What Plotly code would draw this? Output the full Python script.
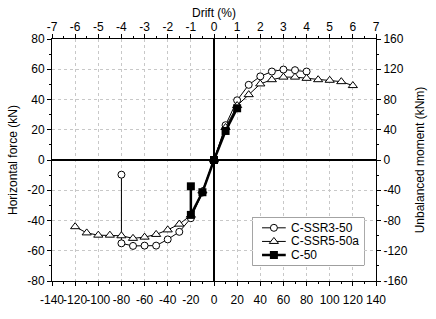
import plotly.graph_objects as go

# C-SSR3-50 (circles)
ssr3_x = [-80, -80, -70, -60, -50, -40, -30, -20, -10, 0, 10, 20, 30, 40, 50, 60, 70, 80]
ssr3_y = [-9.7, -55.1, -56.8, -56.6, -56.6, -52.5, -47.5, -38.5, -21.5, 0, 23.0, 39.5, 49.7, 55.3, 58.5, 59.8, 59.4, 58.5]
# C-SSR5-50a (triangles)
ssr5_x = [-120, -110, -100, -90, -80, -70, -60, -50, -40, -30, -20, -10, 0, 10, 20, 30, 40, 50, 60, 70, 80, 90, 100, 110, 120]
ssr5_y = [-44.1, -48.2, -49.7, -49.7, -50.1, -51.8, -51.0, -49.2, -46.2, -42.4, -36.5, -20.5, 0, 21.5, 36.0, 43.2, 50.3, 53.1, 54.8, 54.8, 54.0, 53.1, 52.7, 51.8, 49.2]
# C-50 (filled squares)
c50_x = [-20, -20, -10, 0, 10, 20]
c50_y = [-17.4, -36.3, -21.3, 0, 19.2, 34.2]

series_names = ["C-SSR3-50", "C-SSR5-50a", "C-50"]

xt = list(range(-140, 141, 20))
yt = list(range(-80, 81, 20))
x2t = list(range(-7, 8))
y2t = list(range(-160, 161, 40))

def lab(v):
    return str(v)

styles = [
    dict(line=dict(color="black", width=1),
         marker=dict(symbol="circle", size=7, color="white", line=dict(width=1, color="black"))),
    dict(line=dict(color="black", width=1),
         marker=dict(symbol="triangle-up", size=8, color="white", line=dict(width=1, color="black"))),
    dict(line=dict(color="black", width=2.5),
         marker=dict(symbol="square", size=8, color="black")),
]

fig = go.Figure()
for name, xs, ys, st in zip(series_names, [ssr3_x, ssr5_x, c50_x], [ssr3_y, ssr5_y, c50_y], styles):
    fig.add_trace(go.Scatter(x=xs, y=ys, name=name, mode="lines+markers", showlegend=False, **st))

# dummy trace for secondary axes
fig.add_trace(go.Scatter(x=[0], y=[0], xaxis="x2", yaxis="y2", mode="markers",
                         marker=dict(opacity=0), showlegend=False, hoverinfo="skip"))

# custom legend drawn on its own small axis (rows 1..3, sample from 0 to 1, text at 1.15)
for i, (name, st) in enumerate(zip(series_names, styles)):
    row = i + 1
    fig.add_trace(go.Scatter(x=[0, 1], y=[row, row], xaxis="x3", yaxis="y3", mode="lines",
                             line=st["line"], showlegend=False, hoverinfo="skip"))
    fig.add_trace(go.Scatter(x=[0.5], y=[row], xaxis="x3", yaxis="y3", mode="markers",
                             marker=st["marker"], showlegend=False, hoverinfo="skip"))
    fig.add_annotation(x=1.15, y=row, xref="x3", yref="y3", text=name, showarrow=False,
                       xanchor="left", yanchor="middle",
                       font=dict(family="Liberation Sans, Arial", size=12, color="black"))

tickfont = dict(family="Liberation Sans, Arial", size=12, color="black")
common = dict(showline=True, linecolor="black", linewidth=1, ticks="outside", ticklen=4,
              tickcolor="black", tickfont=tickfont, tickangle=0)

fig.update_layout(
    width=436, height=319,
    margin=dict(l=38, r=46, t=39, b=32),
    plot_bgcolor="white", paper_bgcolor="white",
    font=dict(family="Liberation Sans, Arial", size=12, color="black"),
    xaxis=dict(range=[-140, 140], tickvals=xt, ticktext=[lab(v) for v in xt],
               showgrid=True, gridcolor="#c8c8c8", griddash="dot", gridwidth=1,
               zeroline=True, zerolinecolor="black", zerolinewidth=1.5,
               ticklabelstandoff=4,
               minor=dict(dtick=10, ticklen=2, ticks="outside", tickcolor="black", showgrid=False),
               **common),
    yaxis=dict(range=[-80, 80], tickvals=yt, ticktext=[lab(v) for v in yt],
               showgrid=True, gridcolor="#c8c8c8", griddash="dot", gridwidth=1,
               zeroline=True, zerolinecolor="black", zerolinewidth=1.5,
               minor=dict(dtick=10, ticklen=2, ticks="outside", tickcolor="black", showgrid=False),
               title=dict(text="Horizontal force (kN)", standoff=7, font=dict(size=12)),
               **common),
    xaxis2=dict(range=[-7, 7], overlaying="x", side="top", anchor="y",
                tickvals=x2t, ticktext=[lab(v) for v in x2t], showgrid=False, zeroline=False,
                ticklabelstandoff=-2,
                minor=dict(dtick=0.5, ticklen=2, ticks="outside", tickcolor="black"),
                title=dict(text="Drift (%)", standoff=0, font=dict(size=12)),
                **common),
    yaxis2=dict(range=[-160, 160], overlaying="y", side="right", anchor="x",
                tickvals=y2t, ticktext=[lab(v) for v in y2t], showgrid=False, zeroline=False,
                minor=dict(dtick=20, ticklen=2, ticks="outside", tickcolor="black"),
                title=dict(text="Unbalanced moment (kNm)", standoff=8, font=dict(size=12)),
                **common),
    xaxis3=dict(domain=[0.619, 0.963], range=[-0.4, 4.3], anchor="y3",
                visible=False, fixedrange=True),
    yaxis3=dict(domain=[0.065, 0.262], range=[3.75, 0.25], anchor="x3",
                visible=False, fixedrange=True),
    showlegend=False,
    shapes=[dict(type="rect", xref="x3 domain", yref="y3 domain", x0=0, x1=1, y0=0, y1=1,
                 line=dict(color="#555555", width=1), fillcolor="white", layer="below")],
)

fig.write_html("out.html")
